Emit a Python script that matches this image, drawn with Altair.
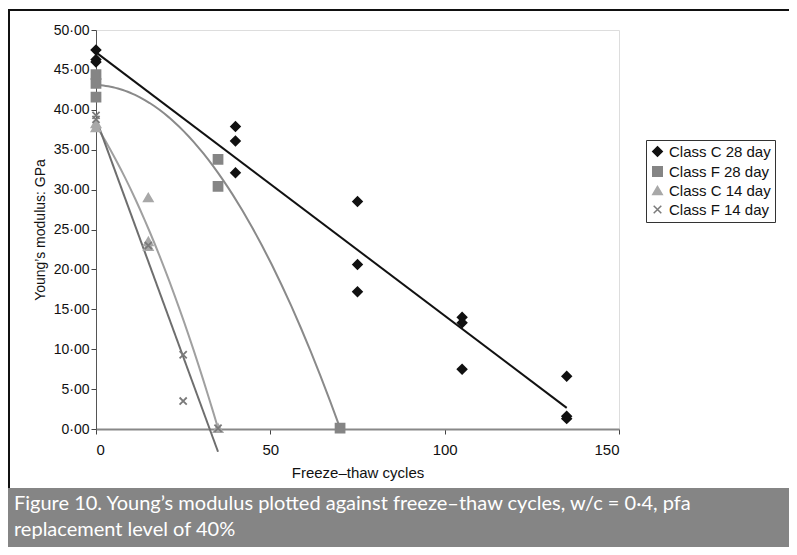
import altair as alt
import pandas as pd

series_names = ["Class C 28 day", "Class F 28 day", "Class C 14 day", "Class F 14 day"]
c28_x = [0, 0, 0, 40, 40, 40, 75, 75, 75, 105, 105, 105, 135, 135, 135]
c28_y = [47.5, 46.3, 46.0, 37.9, 36.1, 32.1, 28.5, 20.6, 17.2, 14.0, 13.3, 7.5, 6.6, 1.6, 1.3]
f28_x = [0, 0, 0, 35, 35, 70]
f28_y = [44.4, 43.3, 41.6, 33.8, 30.4, 0.1]
c14_x = [0, 0, 15, 15, 15, 35]
c14_y = [37.8, 38.3, 29.0, 23.5, 22.9, 0.1]
f14_x = [0, 0, 15, 25, 25, 35]
f14_y = [39.3, 38.8, 23.0, 9.3, 3.5, 0.1]
y_ticks = [0, 5, 10, 15, 20, 25, 30, 35, 40, 45, 50]
x_ticks = [0, 50, 100, 150]

rows = []
for name, xs, ys in zip(series_names, [c28_x, f28_x, c14_x, f14_x], [c28_y, f28_y, c14_y, f14_y]):
    for x, y in zip(xs, ys):
        rows.append({"series": name, "x": x, "y": y})
df = pd.DataFrame(rows)

colors = ["#111111", "#858585", "#a8a8a8", "#7a7a7a"]
line_colors = ["#111111", "#8a8a8a", "#a0a0a0", "#6e6e6e"]
xshape = "M-0.8,-0.8L0.8,0.8M-0.8,0.8L0.8,-0.8"
shapes = ["diamond", "square", "triangle-up", xshape]

base = alt.Chart(df)
xs = alt.X("x:Q", scale=alt.Scale(domain=[0, 150], nice=False), title="Freeze\u2013thaw cycles",
           axis=alt.Axis(values=x_ticks, grid=False, domainColor="#888", domainWidth=2,
                         tickColor="#444", tickSize=5, labelOverlap=False,
                         labelFont="Liberation Sans", labelFontSize=15, labelColor="#111",
                         titleFont="Liberation Sans", titleFontSize=15, titleFontWeight="normal",
                         titleColor="#111", labelPadding=8, titlePadding=8))
ys = alt.Y("y:Q", scale=alt.Scale(domain=[0, 50], nice=False), title="Young\u2019s modulus: GPa",
           axis=alt.Axis(values=y_ticks, tickCount=11, grid=False, domainColor="#555", tickColor="#444",
                         tickSize=5, labelOverlap=False, labelBound=False, labelFlush=False,
                         labelExpr="replace(format(datum.value,'.2f'),'.','\u00b7')",
                         labelFont="Liberation Sans", labelFontSize=14, labelColor="#111",
                         titleFont="Liberation Sans", titleFontSize=14, titleFontWeight="normal",
                         titleColor="#111", titlePadding=6))

lines = []
specs = [("Class C 28 day", "linear", None), ("Class F 28 day", "poly", 2),
         ("Class C 14 day", "poly", 2), ("Class F 14 day", "linear", None)]
for (name, method, order), lc in zip(specs, line_colors):
    kw = {"method": method}
    if order:
        kw["order"] = order
    lines.append(base.transform_filter(alt.datum.series == name)
                 .transform_regression("x", "y", **kw)
                 .mark_line(color=lc, strokeWidth=2, clip=False)
                 .encode(x="x:Q", y="y:Q"))

leg = alt.Legend(title=None, orient="none", legendX=550, legendY=110, labelFont="Liberation Sans",
                 labelFontSize=15, labelColor="#111", strokeColor="#333", padding=4, rowPadding=3,
                 symbolSize=90, fillColor="white")
points = base.mark_point(filled=True, size=80, strokeWidth=1.8, opacity=1).encode(
    x=xs, y=ys,
    color=alt.Color("series:N", scale=alt.Scale(domain=series_names, range=colors), legend=leg),
    stroke=alt.Stroke("series:N", scale=alt.Scale(domain=series_names, range=colors), legend=leg),
    shape=alt.Shape("series:N", scale=alt.Scale(domain=series_names, range=shapes), legend=leg),
)

cap = pd.DataFrame({"t": ["Figure 10. Young\u2019s modulus plotted against freeze\u2013thaw cycles, w/c = 0\u00b74, pfa",
                          "replacement level of 40%"]})
box = alt.Chart(pd.DataFrame({"a": [1]})).mark_rect(color="#858585", clip=False).encode(
    x=alt.value(-88), x2=alt.value(693), y=alt.value(458), y2=alt.value(530))
cap1 = alt.Chart(cap.iloc[[0]]).mark_text(align="left", baseline="middle", color="white", font="Lato",
                                          fontSize=20, clip=False).encode(x=alt.value(-82), y=alt.value(474), text="t:N")
cap2 = alt.Chart(cap.iloc[[1]]).mark_text(align="left", baseline="middle", color="white", font="Lato",
                                          fontSize=20, clip=False).encode(x=alt.value(-82), y=alt.value(500), text="t:N")
topline = alt.Chart(pd.DataFrame({"a": [1]})).mark_rule(color="#111", strokeWidth=2, clip=False).encode(
    x=alt.value(-88), x2=alt.value(693), y=alt.value(-20))
leftline = alt.Chart(pd.DataFrame({"a": [1]})).mark_rule(color="#111", strokeWidth=2, clip=False).encode(
    x=alt.value(-87), y=alt.value(-20), y2=alt.value(458))

chart = alt.layer(box, cap1, cap2, topline, leftline, *lines, points).properties(
    width=523, height=399, autosize=alt.AutoSizeParams(type="none"),
    padding={"left": 88, "top": 22, "right": 170, "bottom": 118}
).configure_view(stroke=None).configure(background="white")

chart.save("out.html", embed_options={"renderer": "svg", "actions": False})
